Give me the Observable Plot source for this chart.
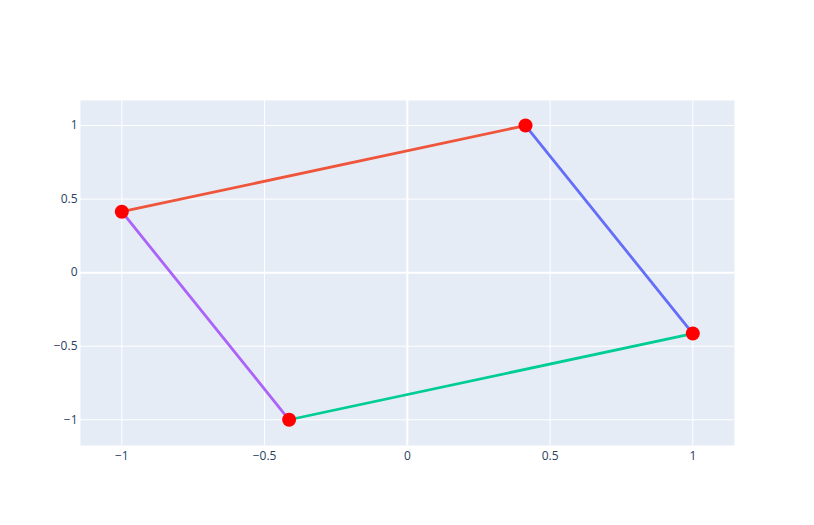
<!DOCTYPE html>
<html>
<head>
<meta charset="utf-8">
<script src="https://cdn.jsdelivr.net/npm/d3@7"></script>
<script src="https://cdn.jsdelivr.net/npm/@observablehq/plot@0.6"></script>
<style>
  html, body { margin: 0; padding: 0; background: #fff; }
  #chart svg { display: block; }
</style>
</head>
<body>
<div id="chart"></div>
<script>
// Vertex coordinates (in drawing order)
const ptX = [0.414, 1, -0.414, -1];
const ptY = [1, -0.414, -1, 0.414];
// Segment colours: segment i goes from vertex i to vertex i+1
const segColors = ["#636efa", "#00cc96", "#ab63fa", "#EF553B"];
// Tick values
const xTicks = [-1, -0.5, 0, 0.5, 1];
const yTicks = [-1, -0.5, 0, 0.5, 1];

const segments = [];
segColors.forEach((c, i) => {
  const j = (i + 1) % ptX.length;
  segments.push({seg: i, color: c, x: ptX[i], y: ptY[i]});
  segments.push({seg: i, color: c, x: ptX[j], y: ptY[j]});
});
const points = ptX.map((x, i) => ({x, y: ptY[i]}));

const fmt = d => d === 0 ? "0" : d3.format("")(d).replace("-", "\u2212");

const chart = Plot.plot({
  width: 814,
  height: 525,
  marginLeft: 80,
  marginRight: 80,
  marginTop: 100,
  marginBottom: 80,
  style: {fontFamily: "'Open Sans', verdana, arial, sans-serif", fontSize: "12px", color: "#2a3f5f", background: "#fff"},
  x: {domain: [-1.1447, 1.146]},
  y: {domain: [-1.175, 1.17]},
  marks: [
    Plot.frame({fill: "#E5ECF6", stroke: null}),
    Plot.ruleX(xTicks.filter(d => d !== 0), {stroke: "#fff", strokeWidth: 1, strokeOpacity: 1}),
    Plot.ruleY(yTicks.filter(d => d !== 0), {stroke: "#fff", strokeWidth: 1, strokeOpacity: 1}),
    Plot.ruleX([0], {stroke: "#fff", strokeWidth: 2, strokeOpacity: 1}),
    Plot.ruleY([0], {stroke: "#fff", strokeWidth: 2, strokeOpacity: 1}),
    Plot.axisX({ticks: xTicks, tickSize: 0, tickPadding: 6, tickFormat: fmt, label: null, fill: "#2a3f5f", fontSize: 12}),
    Plot.axisY({ticks: yTicks, tickSize: 0, tickPadding: 3, tickFormat: fmt, label: null, fill: "#2a3f5f", fontSize: 12}),
    Plot.line(segments, {x: "x", y: "y", z: "seg", stroke: "color", strokeWidth: 2.8}),
    Plot.dot(points, {x: "x", y: "y", r: 7, fill: "red", stroke: null})
  ]
});
document.getElementById("chart").appendChild(chart);
</script>
</body>
</html>
